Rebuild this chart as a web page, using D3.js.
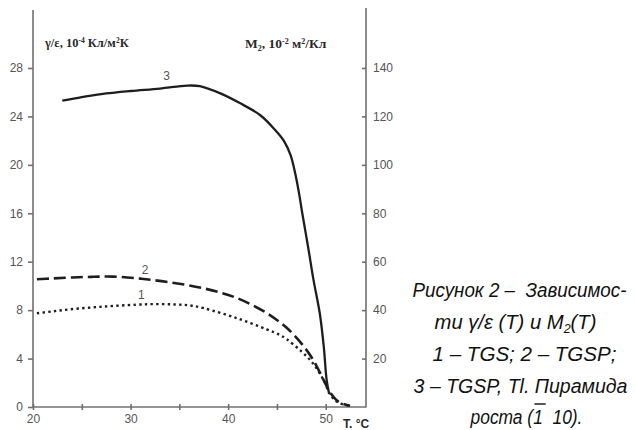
<!DOCTYPE html>
<html>
<head>
<meta charset="utf-8">
<script src="https://cdn.jsdelivr.net/npm/d3@7"></script>
<style>
  html, body { margin: 0; padding: 0; background: #fff; }
  svg { display: block; }
</style>
</head>
<body>
<svg id="chart" width="635" height="430"></svg>
<script>
// Temperature ticks (°C)
const xTicksMajor = [20, 30, 40, 50];
const xTicksMinor = [25, 35, 45];
// Left axis: γ/ε, 10^-4 Кл/м²К
const yLeftTicks = [0, 4, 8, 12, 16, 20, 24, 28];
// Right axis: M2, 10^-2 м²/Кл
const yRightTicks = [20, 40, 60, 80, 100, 120, 140];

// Curve 1 – TGS (dotted)
const tgsT = [20.4, 22, 23.8, 27.2, 30.6, 32.5, 34.5, 36, 37.5, 40.9, 44.0, 45.3, 46.0, 47.5, 48.75, 49.8, 50.5, 51.3, 52.7];
const tgsV = [7.74, 7.9, 8.07, 8.29, 8.45, 8.5, 8.47, 8.4, 8.16, 7.33, 6.4, 5.95, 5.6, 4.6, 3.55, 2.2, 1.0, 0.35, 0.1];
// Curve 2 – TGSP (dashed)
const tgspT = [20.4, 22, 24, 26, 28.2, 31, 34, 37.5, 40.9, 44.0, 45.3, 46.0, 47.5, 48.75, 49.8, 50.5, 51.3, 52.5];
const tgspV = [10.55, 10.62, 10.7, 10.75, 10.77, 10.6, 10.3, 9.8, 9.0, 7.74, 7.0, 6.55, 5.26, 3.85, 2.2, 1.15, 0.44, 0.1];
// Curve 3 – TGSP,Tl (solid)
const tgsptlT = [23.0, 25.0, 27.0, 30.0, 33.0, 35.8, 37.1, 39.2, 41.2, 43.3, 44.8, 45.7, 46.4, 46.9, 47.3, 47.6, 48.2, 48.75, 49.4, 49.8, 50.1, 50.35];
const tgsptlV = [25.3, 25.6, 25.85, 26.1, 26.3, 26.55, 26.5, 25.9, 25.1, 24.1, 22.9, 22.0, 20.8, 19.2, 17.5, 16.0, 13.2, 10.5, 7.7, 5.0, 2.2, 1.1];

const captionLines = [
  "Рисунок 2 –  Зависимос-",
  "ти γ/ε (T) и M",
  "1 – TGS; 2 – TGSP;",
  "3 – TGSP, Tl. Пирамида",
  "роста (1  10)."
];

const svg = d3.select("#chart");
const axisColor = "#707070";
const labelColor = "#555";
const inkColor = "#1e1e1e";

const x = d3.scaleLinear().domain([20, 50]).range([33, 325.7]);
const y = d3.scaleLinear().domain([0, 28]).range([407, 68]);
const y2 = d3.scaleLinear().domain([0, 140]).range([407, 68]);

const xEnd = 366;

// Left axis
const gL = svg.append("g").attr("transform", "translate(33,0)")
  .call(d3.axisLeft(y).tickValues(yLeftTicks).tickSize(5).tickPadding(5).tickFormat(d3.format("d")));
gL.select(".domain").remove();
gL.append("line").attr("x1", 0).attr("x2", 0).attr("y1", 10).attr("y2", 407.5);

// Right axis: ticks point inward, labels outside
const gR = svg.append("g").attr("transform", `translate(${xEnd},0)`)
  .call(d3.axisRight(y2).tickValues(yRightTicks).tickSize(-4).tickPadding(7).tickFormat(d3.format("d")));
gR.select(".domain").remove();
gR.append("line").attr("x1", 0).attr("x2", 0).attr("y1", 8).attr("y2", 407.5);

// Bottom axis with crossing ticks
const gB = svg.append("g").attr("transform", "translate(0,407)")
  .call(d3.axisBottom(x).tickValues(xTicksMajor.concat(xTicksMinor)).tickSize(3).tickPadding(4)
    .tickFormat(d => xTicksMajor.includes(d) ? d : ""));
gB.select(".domain").remove();
gB.selectAll(".tick line").attr("y1", -3).attr("y2", 3);
gB.append("line").attr("x1", 33).attr("x2", xEnd).attr("y1", 0).attr("y2", 0);

[gL, gR, gB].forEach(g => {
  g.selectAll("line").attr("stroke", axisColor).attr("stroke-width", 1.6);
  g.selectAll("text").attr("fill", labelColor)
    .style("font-family", "Arial, 'Liberation Sans', sans-serif").style("font-size", "12px");
});

// Curves
const line = d3.line().x(d => x(d[0])).y(d => y(d[1])).curve(d3.curveCatmullRom.alpha(0.5));
const zip = (a, b) => a.map((t, i) => [t, b[i]]);

svg.append("path").datum(zip(tgsT, tgsV)).attr("d", line)
  .attr("fill", "none").attr("stroke", inkColor).attr("stroke-width", 2.4)
  .attr("stroke-dasharray", "2.4,3.3");
svg.append("path").datum(zip(tgspT, tgspV)).attr("d", line)
  .attr("fill", "none").attr("stroke", inkColor).attr("stroke-width", 2.6)
  .attr("stroke-dasharray", "12,5");
svg.append("path").datum(zip(tgsptlT, tgsptlV)).attr("d", line)
  .attr("fill", "none").attr("stroke", inkColor).attr("stroke-width", 2.3);

// Curve numbers
const curveLabels = [["1", 31.1, 9.25], ["2", 31.5, 11.35], ["3", 33.7, 27.35]];
svg.selectAll("text.curve-num").data(curveLabels).enter().append("text")
  .attr("class", "curve-num")
  .attr("x", d => x(d[1])).attr("y", d => y(d[2]))
  .attr("text-anchor", "middle").attr("dominant-baseline", "central")
  .attr("fill", labelColor)
  .style("font-family", "Arial, 'Liberation Sans', sans-serif").style("font-size", "12px")
  .text(d => d[0]);

// Axis titles
const serifBold = "'Liberation Serif', 'Times New Roman', serif";
const tl = svg.append("text").attr("x", 45).attr("y", 47)
  .attr("fill", "#2a2a2a").style("font-family", serifBold).style("font-weight", "bold").style("font-size", "12.5px");
tl.append("tspan").text("γ/ε, 10");
tl.append("tspan").attr("dy", -4.5).style("font-size", "7.5px").text("-4");
tl.append("tspan").attr("dy", 4.5).text(" Кл/м");
tl.append("tspan").attr("dy", -4.5).style("font-size", "7.5px").text("2");
tl.append("tspan").attr("dy", 4.5).text("К");

const tr = svg.append("text").attr("x", 245).attr("y", 48)
  .attr("fill", "#2a2a2a").style("font-family", serifBold).style("font-weight", "bold").style("font-size", "13.5px");
tr.append("tspan").text("M");
tr.append("tspan").attr("dy", 3).style("font-size", "8px").text("2");
tr.append("tspan").attr("dy", -3).text(", 10");
tr.append("tspan").attr("dy", -4.5).style("font-size", "8px").text("-2");
tr.append("tspan").attr("dy", 4.5).text(" м");
tr.append("tspan").attr("dy", -4.5).style("font-size", "8px").text("2");
tr.append("tspan").attr("dy", 4.5).text("/Кл");

svg.append("text").attr("x", 343).attr("y", 428)
  .attr("fill", "#2a2a2a").style("font-family", "Arial, 'Liberation Sans', sans-serif")
  .style("font-weight", "bold").style("font-size", "12px").text("T. °C");

// Figure caption: each line is condensed horizontally to its set width
const capFont = "'Liberation Sans Narrow', 'Arial Narrow', 'Liberation Sans', Arial, sans-serif";
const capCenters = [519.5, 515.5, 524.5, 520.5, 526.5];
const capWidths = [214, 162, 184, 214, 112];
const capBase = [296.5, 328.5, 360.5, 392.5, 424];
captionLines.forEach((s, i) => {
  const g = svg.append("g");
  const t = g.append("text")
    .attr("x", 0).attr("y", 0)
    .attr("text-anchor", "middle")
    .attr("fill", "#111")
    .style("font-family", capFont).style("font-style", "italic").style("font-size", "21px")
    .style("white-space", "pre");
  if (i === 1) {
    t.append("tspan").text(s);
    t.append("tspan").attr("dy", 4).style("font-size", "13px").text("2");
    t.append("tspan").attr("dy", -4).text("(T)");
  } else {
    t.text(s);
  }
  const w = t.node().getComputedTextLength();
  const sx = Math.min(1, capWidths[i] / w);
  g.attr("transform", `translate(${capCenters[i]},${capBase[i]}) scale(${sx},1)`);
  if (i === 4) {
    // bar over the first index digit
    const node = t.node();
    const idx = s.indexOf("1");
    const p0 = node.getStartPositionOfChar(idx);
    const p1 = node.getEndPositionOfChar(idx);
    g.append("line")
      .attr("x1", p0.x + 1.5).attr("x2", p1.x + 3.5)
      .attr("y1", -20).attr("y2", -20)
      .attr("stroke", "#111").attr("stroke-width", 1.4);
  }
});
</script>
</body>
</html>
